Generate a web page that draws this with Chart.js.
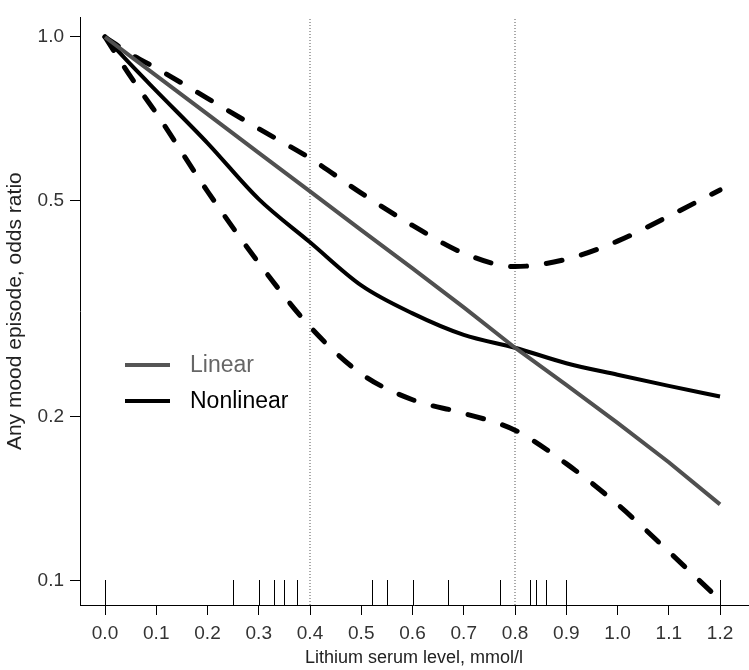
<!DOCTYPE html>
<html>
<head>
<meta charset="utf-8">
<script src="https://cdn.jsdelivr.net/npm/chart.js@4.4.1/dist/chart.umd.min.js"></script>
<style>
  html, body { margin: 0; padding: 0; background: #fff; }
  #wrap { width: 749px; height: 670px; }
</style>
</head>
<body>
<div id="wrap"><canvas id="orChart" width="749" height="670"></canvas></div>
<script>
// values (odds ratio on log scale)
const xValues = [0, 0.05, 0.1, 0.2, 0.3, 0.4, 0.5, 0.6, 0.7, 0.8, 0.9, 1.0, 1.1, 1.2];
const linearOR = [1.0, 0.921, 0.849, 0.721, 0.612, 0.520, 0.441, 0.375, 0.318, 0.268, 0.229, 0.195, 0.165, 0.138];
const nonlinearOR = [1.0, 0.89, 0.796, 0.638, 0.503, 0.419, 0.349, 0.310, 0.283, 0.268, 0.251, 0.239, 0.228, 0.218];
const upperCI = [1.0, 0.93, 0.876, 0.771, 0.678, 0.598, 0.516, 0.450, 0.400, 0.378, 0.390, 0.421, 0.468, 0.523];
const lowerCI = [1.0, 0.845, 0.724, 0.520, 0.384, 0.293, 0.240, 0.215, 0.203, 0.189, 0.164, 0.138, 0.113, 0.092];

// observed lithium levels (rug at the bottom)
const rugValues = [0, 0.25, 0.30, 0.33, 0.35, 0.375, 0.52, 0.55, 0.60, 0.67, 0.77, 0.83, 0.84, 0.86, 0.90, 1.2];
const refLines = [0.4, 0.8];

const xTicks = [0, 0.1, 0.2, 0.3, 0.4, 0.5, 0.6, 0.7, 0.8, 0.9, 1.0, 1.1, 1.2];
const yTicks = [0.1, 0.2, 0.5, 1.0];

const Y_MIN = 0.0901;
const Y_MAX = 1.0865;

const FONT = "'Liberation Sans', Arial, sans-serif";

const toPoints = (ys) => xValues.map((x, i) => ({ x: x, y: ys[i] }));

const refDatasets = refLines.map((v) => ({
  label: "ref",
  data: [{ x: v, y: Y_MIN }, { x: v, y: Y_MAX }],
  borderColor: "#555",
  borderWidth: 1,
  borderDash: [1, 2],
  pointRadius: 0,
  order: 5,
}));

// rug ticks drawn through the x scale
const rugPlugin = {
  id: "rug",
  afterDatasetsDraw(chart) {
    const ctx = chart.ctx;
    const x = chart.scales.x;
    const bottom = chart.chartArea.bottom;
    ctx.save();
    ctx.strokeStyle = "#000";
    ctx.lineWidth = 1;
    rugValues.forEach((v) => {
      const px = Math.round(x.getPixelForValue(v)) + 0.5;
      ctx.beginPath();
      ctx.moveTo(px, bottom);
      ctx.lineTo(px, bottom - 25);
      ctx.stroke();
    });
    ctx.restore();
  },
};

// legend sitting inside the plot
const legendPlugin = {
  id: "innerLegend",
  afterDraw(chart) {
    const ctx = chart.ctx;
    const items = [
      { text: "Linear", line: "#555", color: "#666", y: 365 },
      { text: "Nonlinear", line: "#000", color: "#000", y: 401 },
    ];
    ctx.save();
    ctx.font = "23px " + FONT;
    ctx.textBaseline = "middle";
    items.forEach((it) => {
      ctx.strokeStyle = it.line;
      ctx.lineWidth = 4;
      ctx.beginPath();
      ctx.moveTo(125, it.y);
      ctx.lineTo(170, it.y);
      ctx.stroke();
      ctx.fillStyle = it.color;
      ctx.fillText(it.text, 190, it.y + 1);
    });
    ctx.restore();
  },
};

const ctx = document.getElementById("orChart").getContext("2d");

new Chart(ctx, {
  type: "line",
  data: {
    datasets: [
      {
        label: "Linear",
        data: toPoints(linearOR),
        borderColor: "#505050",
        borderWidth: 4,
        pointRadius: 0,
        order: 1,
      },
      {
        label: "Nonlinear",
        data: toPoints(nonlinearOR),
        borderColor: "#000",
        borderWidth: 4,
        pointRadius: 0,
        cubicInterpolationMode: "monotone",
        order: 2,
      },
      {
        label: "upper",
        data: toPoints(upperCI),
        borderColor: "#000",
        borderWidth: 5,
        borderDash: [16, 20],
        borderCapStyle: "round",
        pointRadius: 0,
        cubicInterpolationMode: "monotone",
        order: 3,
      },
      {
        label: "lower",
        data: toPoints(lowerCI),
        borderColor: "#000",
        borderWidth: 5,
        borderDash: [16, 20],
        borderCapStyle: "round",
        pointRadius: 0,
        cubicInterpolationMode: "monotone",
        order: 3,
      },
      ...refDatasets,
    ],
  },
  options: {
    responsive: false,
    animation: false,
    layout: { padding: { top: 5, right: 1, left: 0, bottom: 0 } },
    plugins: {
      legend: { display: false },
      tooltip: { enabled: false },
    },
    scales: {
      x: {
        type: "linear",
        min: -0.0488,
        max: 1.2546,
        afterBuildTicks: (scale) => {
          scale.ticks = xTicks.map((v) => ({ value: v }));
        },
        afterFit: (scale) => {
          scale.height = 65;
        },
        border: { display: true, color: "#000", width: 1 },
        grid: { display: true, drawOnChartArea: false, drawTicks: true, tickLength: 10, color: "#000" },
        ticks: {
          autoSkip: false,
          maxRotation: 0,
          padding: 7,
          color: "#333",
          font: { size: 19, family: FONT },
          callback: (v) => Number(v).toFixed(1),
        },
        title: {
          display: true,
          text: "Lithium serum level, mmol/l",
          color: "#222",
          padding: { top: 4, bottom: 1 },
          font: { size: 18, family: FONT },
        },
      },
      y: {
        type: "logarithmic",
        min: Y_MIN,
        max: Y_MAX,
        afterBuildTicks: (scale) => {
          scale.ticks = yTicks.map((v) => ({ value: v }));
        },
        afterFit: (scale) => {
          scale.width = 80;
        },
        border: { display: true, color: "#000", width: 1 },
        grid: { display: true, drawOnChartArea: false, drawTicks: true, tickLength: 10, color: "#000" },
        ticks: {
          autoSkip: false,
          padding: 6,
          color: "#333",
          font: { size: 19, family: FONT },
          callback: (v) => Number(v).toFixed(1),
        },
        title: {
          display: true,
          text: "Any mood episode, odds ratio",
          color: "#222",
          padding: { top: 3, bottom: 2 },
          font: { size: 21, family: FONT },
        },
      },
    },
  },
  plugins: [rugPlugin, legendPlugin],
});
</script>
</body>
</html>
